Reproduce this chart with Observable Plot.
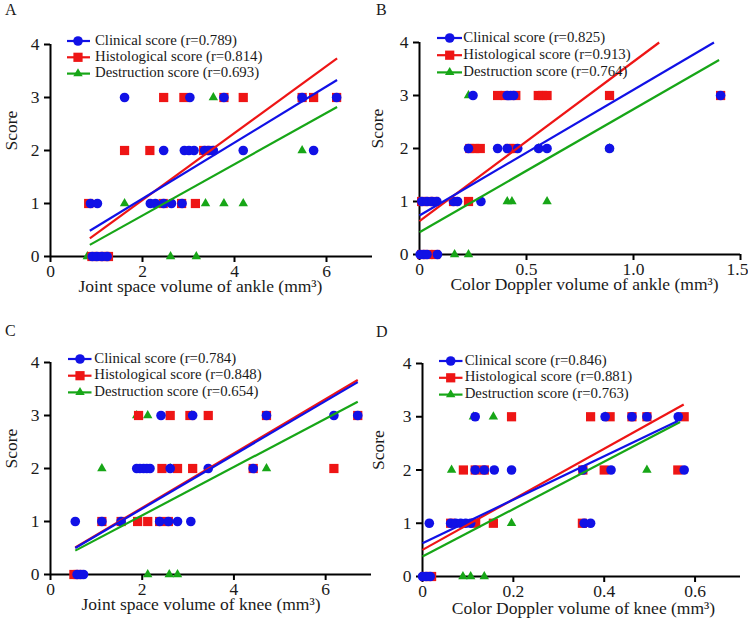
<!DOCTYPE html>
<html>
<head>
<meta charset="utf-8">
<script src="https://cdn.jsdelivr.net/npm/d3@7"></script>
<script src="https://cdn.jsdelivr.net/npm/@observablehq/plot@0.6"></script>
<style>
  body { margin: 0; background: #fff; }
  #wrap { position: relative; width: 748px; height: 627px; font-family: "Liberation Serif", "Times New Roman", serif; color: #1a1a1a; overflow: hidden; }
  .panel { position: absolute; }
  .panel svg { overflow: visible; max-width: none; }
  .panel svg text { font-family: "Liberation Serif", "Times New Roman", serif; }
  .tag { position: absolute; font-size: 16px; line-height: 1; }
  .legend { position: absolute; overflow: visible; }
</style>
</head>
<body>
<div id="wrap"></div>
<script>
// Score categories, in legend order
const scoreNames = ["Clinical score", "Histological score", "Destruction score"];

// ---- A: joint space volume of ankle (mm³) — [volume, score]
const ankleJointClinical = [
  [1.61, 3], [3.03, 3], [3.77, 3], [5.47, 3], [6.22, 3],
  [2.46, 2], [2.91, 2], [3.01, 2], [3.12, 2], [3.35, 2], [3.44, 2], [3.54, 2], [4.19, 2], [5.72, 2],
  [0.87, 1], [1.02, 1], [2.17, 1], [2.28, 1], [2.46, 1], [2.63, 1], [2.86, 1],
  [0.91, 0], [1.01, 0], [1.12, 0], [1.23, 0]
];
const ankleJointHistological = [
  [2.46, 3], [2.90, 3], [3.77, 3], [4.19, 3], [5.47, 3], [5.72, 3], [6.22, 3],
  [1.61, 2], [2.16, 2], [3.33, 2], [3.50, 2],
  [0.83, 1], [2.45, 1], [2.85, 1], [3.15, 1],
  [0.90, 0], [1.05, 0], [1.18, 0], [1.26, 0]
];
const ankleJointDestruction = [
  [3.54, 3], [5.47, 2],
  [1.61, 1], [3.37, 1], [3.77, 1], [4.19, 1],
  [0.80, 0], [2.61, 0], [3.17, 0]
];
const ankleJointR = [0.789, 0.814, 0.693];
// fitted lines [x1, y1, x2, y2]: clinical, histological, destruction
const ankleJointFits = [[0.855, 0.485, 6.23, 3.33], [0.855, 0.34, 6.23, 3.74], [0.855, 0.22, 6.23, 2.82]];
const ankleJointTicks = [0, 2, 4, 6];
const ankleJointTickLabels = ["0", "2", "4", "6"];

// ---- B: color Doppler volume of ankle (mm³)
const ankleDopplerClinical = [
  [0.25, 3], [0.41, 3], [0.424, 3], [0.44, 3], [1.407, 3],
  [0.229, 2], [0.365, 2], [0.41, 2], [0.459, 2], [0.557, 2], [0.596, 2], [0.888, 2],
  [0.011, 1], [0.035, 1], [0.058, 1], [0.081, 1], [0.159, 1], [0.178, 1], [0.287, 1],
  [0.003, 0], [0.019, 0], [0.035, 0], [0.084, 0]
];
const ankleDopplerHistological = [
  [0.365, 3], [0.40, 3], [0.45, 3], [0.555, 3], [0.575, 3], [0.596, 3], [0.888, 3], [1.407, 3],
  [0.235, 2], [0.258, 2], [0.284, 2], [0.42, 2], [0.44, 2],
  [0.01, 1], [0.04, 1], [0.07, 1], [0.159, 1], [0.229, 1],
  [0.01, 0], [0.04, 0], [0.075, 0]
];
const ankleDopplerDestruction = [
  [0.229, 3],
  [0.557, 2], [0.888, 2],
  [0.41, 1], [0.432, 1], [0.596, 1],
  [0.164, 0], [0.229, 0]
];
const ankleDopplerR = [0.825, 0.913, 0.764];
const ankleDopplerFits = [[0, 0.737, 1.376, 4.0], [0, 0.63, 1.12, 4.0], [0, 0.42, 1.40, 3.67]];
const ankleDopplerTicks = [0, 0.5, 1.0, 1.5];
const ankleDopplerTickLabels = ["0", "0.5", "1.0", "1.5"];

// ---- C: joint space volume of knee (mm³)
const kneeJointClinical = [
  [2.41, 3], [3.10, 3], [4.71, 3], [6.18, 3], [6.70, 3],
  [1.88, 2], [1.95, 2], [2.03, 2], [2.10, 2], [2.17, 2], [2.61, 2], [3.44, 2], [4.42, 2],
  [0.54, 1], [1.12, 1], [1.54, 1], [2.38, 1], [2.57, 1], [2.77, 1], [3.06, 1],
  [0.58, 0], [0.65, 0], [0.72, 0]
];
const kneeJointHistological = [
  [1.92, 3], [2.61, 3], [3.04, 3], [3.44, 3], [4.71, 3], [6.70, 3],
  [2.43, 2], [2.77, 2], [3.10, 2], [4.42, 2], [6.18, 2],
  [1.12, 1], [1.54, 1], [1.90, 1], [2.12, 1], [2.38, 1], [2.57, 1],
  [0.51, 0], [0.60, 0]
];
const kneeJointDestruction = [
  [1.88, 3], [2.12, 3], [3.08, 3],
  [1.12, 2], [2.61, 2], [4.71, 2],
  [2.12, 0], [2.59, 0], [2.77, 0]
];
const kneeJointR = [0.784, 0.848, 0.654];
const kneeJointFits = [[0.54, 0.50, 6.70, 3.63], [0.54, 0.51, 6.70, 3.67], [0.54, 0.45, 6.70, 3.26]];
const kneeJointTicks = [0, 2, 4, 6];
const kneeJointTickLabels = ["0", "2", "4", "6"];

// ---- D: color Doppler volume of knee (mm³)
const kneeDopplerClinical = [
  [0.116, 3], [0.402, 3], [0.461, 3], [0.494, 3], [0.563, 3],
  [0.116, 2], [0.136, 2], [0.158, 2], [0.196, 2], [0.353, 2], [0.415, 2], [0.576, 2],
  [0.015, 1], [0.062, 1], [0.073, 1], [0.084, 1], [0.095, 1], [0.106, 1], [0.356, 1], [0.370, 1],
  [0.0, 0], [0.008, 0], [0.017, 0]
];
const kneeDopplerHistological = [
  [0.196, 3], [0.370, 3], [0.413, 3], [0.461, 3], [0.494, 3], [0.576, 3],
  [0.090, 2], [0.116, 2], [0.136, 2], [0.353, 2], [0.400, 2], [0.562, 2],
  [0.062, 1], [0.117, 1], [0.156, 1], [0.352, 1],
  [0.005, 0], [0.020, 0]
];
const kneeDopplerDestruction = [
  [0.112, 3], [0.156, 3], [0.402, 3],
  [0.064, 2], [0.494, 2],
  [0.196, 1],
  [0.089, 0], [0.106, 0], [0.136, 0]
];
const kneeDopplerR = [0.846, 0.881, 0.763];
const kneeDopplerFits = [[0, 0.625, 0.562, 2.92], [0, 0.50, 0.575, 3.23], [0, 0.375, 0.567, 2.90]];
const kneeDopplerTicks = [0, 0.2, 0.4, 0.6];
const kneeDopplerTickLabels = ["0", "0.2", "0.4", "0.6"];

const scoreTicks = [0, 1, 2, 3, 4];

// drawing styles
const colors = ["#1111e6", "#ee1515", "#17a617"];
const symbols = ["circle", "square", "triangle"];
const radii = [4.8, 5.2, 3.5];
const font = "'Liberation Serif', 'Times New Roman', serif";
const ink = "#1a1a1a";

const wrap = document.getElementById("wrap");

function scorePanel(cfg) {
  const series = cfg.series.map(pts => pts.map(([x, y]) => ({x, y})));
  const fits = cfg.fits.map(([x1, y1, x2, y2]) => ({x1, y1, x2, y2}));
  const drawOrder = [2, 1, 0];
  const [ml, mr, mt, mb] = cfg.margin;
  const ticks = cfg.xTicks;
  const lastTick = ticks[ticks.length - 1];
  // the rightmost tick label may be nudged inward so it stays on the page
  const tickLabel = d => cfg.xTickLabels[ticks.indexOf(d)];
  const nudgeLast = cfg.lastLabelDx !== 0;

  const svg = Plot.plot({
    width: cfg.width,
    height: cfg.height,
    marginLeft: ml, marginRight: mr, marginTop: mt, marginBottom: mb,
    x: {domain: cfg.xDomain},
    y: {domain: [0, 4]},
    style: {fontFamily: font, fontSize: "17.5px", color: ink, background: "transparent", overflow: "visible"},
    marks: [
      Plot.axisX({ticks, tickFormat: d => (nudgeLast && d === lastTick) ? "" : tickLabel(d), tickSize: 6, tickPadding: 2, strokeWidth: 2, stroke: "#000", fill: ink, label: null}),
      nudgeLast ? Plot.text([lastTick], {x: d => d, text: tickLabel, frameAnchor: "bottom", lineAnchor: "top", dy: 8, dx: cfg.lastLabelDx, fill: ink}) : null,
      Plot.axisY({ticks: scoreTicks, tickFormat: d => String(d), tickSize: 6, tickPadding: 5, strokeWidth: 2, stroke: "#000", fill: ink, label: null}),
      Plot.ruleY([0], {stroke: "#000", strokeWidth: 2}),
      Plot.ruleX([0], {stroke: "#000", strokeWidth: 2}),
      ...drawOrder.map(k => Plot.dot(series[k], {x: "x", y: "y", symbol: symbols[k], r: radii[k], fill: colors[k], stroke: "none"})),
      ...drawOrder.map(k => Plot.link([fits[k]], {x1: "x1", y1: "y1", x2: "x2", y2: "y2", stroke: colors[k], strokeWidth: 2.2})),
      Plot.text([cfg.xLabel], {text: d => d, frameAnchor: "bottom", dx: cfg.xLabelDx, dy: cfg.xLabelDy, fontSize: 17.5, fill: ink}),
      Plot.text(["Score"], {text: d => d, frameAnchor: "left", rotate: -90, dx: cfg.yLabelDx, fontSize: 17.5, fill: ink})
    ]
  });

  const holder = document.createElement("div");
  holder.className = "panel";
  holder.style.left = cfg.left + "px";
  holder.style.top = cfg.top + "px";
  holder.style.width = cfg.width + "px";
  holder.style.height = cfg.height + "px";
  holder.appendChild(svg);
  wrap.appendChild(holder);

  // panel letter
  const tag = document.createElement("div");
  tag.className = "tag";
  tag.textContent = cfg.letter;
  tag.style.left = (cfg.left + cfg.tagPos[0]) + "px";
  tag.style.top = (cfg.top + cfg.tagPos[1]) + "px";
  wrap.appendChild(tag);

  // legend: line + marker + label with r value
  const lg = cfg.legend;
  const leg = d3.create("svg")
    .attr("class", "legend")
    .attr("width", 260).attr("height", 60)
    .style("left", (cfg.left + lg.x) + "px")
    .style("top", (cfg.top + lg.y) + "px");
  scoreNames.forEach((name, k) => {
    const cy = 8 + k * lg.step;
    leg.append("line")
      .attr("x1", 0).attr("x2", lg.lineLen).attr("y1", cy).attr("y2", cy)
      .attr("stroke", colors[k]).attr("stroke-width", 2.2);
    const sym = d3.symbol({circle: d3.symbolCircle, square: d3.symbolSquare, triangle: d3.symbolTriangle}[symbols[k]], radii[k] * radii[k] * Math.PI);
    leg.append("path")
      .attr("d", sym())
      .attr("transform", `translate(${lg.markerX},${cy})`)
      .attr("fill", colors[k]);
    leg.append("text")
      .attr("x", lg.textX).attr("y", cy + 3.5)
      .style("font-family", font).style("font-size", "14.8px").attr("fill", ink)
      .text(`${name} (r=${cfg.r[k].toFixed(3)})`);
  });
  wrap.appendChild(leg.node());
}

scorePanel({
  letter: "A", left: 0, top: 0, width: 374, height: 300, margin: [50, 2, 44, 44],
  series: [ankleJointClinical, ankleJointHistological, ankleJointDestruction],
  r: ankleJointR, fits: ankleJointFits,
  xDomain: [0, 7], xTicks: ankleJointTicks, xTickLabels: ankleJointTickLabels, lastLabelDx: 0,
  xLabel: "Joint space volume of ankle (mm³)", xLabelDx: -11, xLabelDy: 35.3, yLabelDx: -39.5,
  tagPos: [5, 2], legend: {x: 67, y: 32.7, step: 16.3, lineLen: 23, markerX: 11, textX: 28}
});

scorePanel({
  letter: "B", left: 374, top: 0, width: 374, height: 300, margin: [45, 8, 42, 46],
  series: [ankleDopplerClinical, ankleDopplerHistological, ankleDopplerDestruction],
  r: ankleDopplerR, fits: ankleDopplerFits,
  xDomain: [0, 1.5], xTicks: ankleDopplerTicks, xTickLabels: ankleDopplerTickLabels, lastLabelDx: -3,
  xLabel: "Color Doppler volume of ankle (mm³)", xLabelDx: 4.5, xLabelDy: 35.3, yLabelDx: -42,
  tagPos: [2, 2], legend: {x: 63, y: 30.3, step: 17.2, lineLen: 25, markerX: 12.7, textX: 26.3}
});

scorePanel({
  letter: "C", left: 0, top: 300, width: 374, height: 327, margin: [50, 3, 62, 53],
  series: [kneeJointClinical, kneeJointHistological, kneeJointDestruction],
  r: kneeJointR, fits: kneeJointFits,
  xDomain: [0, 7], xTicks: kneeJointTicks, xTickLabels: kneeJointTickLabels, lastLabelDx: 0,
  xLabel: "Joint space volume of knee (mm³)", xLabelDx: -10, xLabelDy: 35.3, yLabelDx: -39.5,
  tagPos: [5, 23], legend: {x: 68, y: 51.3, step: 16.7, lineLen: 23.5, markerX: 12, textX: 26.3}
});

scorePanel({
  letter: "D", left: 374, top: 300, width: 374, height: 327, margin: [48, 8, 63, 51],
  series: [kneeDopplerClinical, kneeDopplerHistological, kneeDopplerDestruction],
  r: kneeDopplerR, fits: kneeDopplerFits,
  xDomain: [0, 0.7], xTicks: kneeDopplerTicks, xTickLabels: kneeDopplerTickLabels, lastLabelDx: 0,
  xLabel: "Color Doppler volume of knee (mm³)", xLabelDx: 2, xLabelDy: 37, yLabelDx: -44,
  tagPos: [2, 24], legend: {x: 65, y: 52.7, step: 16.8, lineLen: 23.5, markerX: 11.7, textX: 25.7}
});
</script>
</body>
</html>
